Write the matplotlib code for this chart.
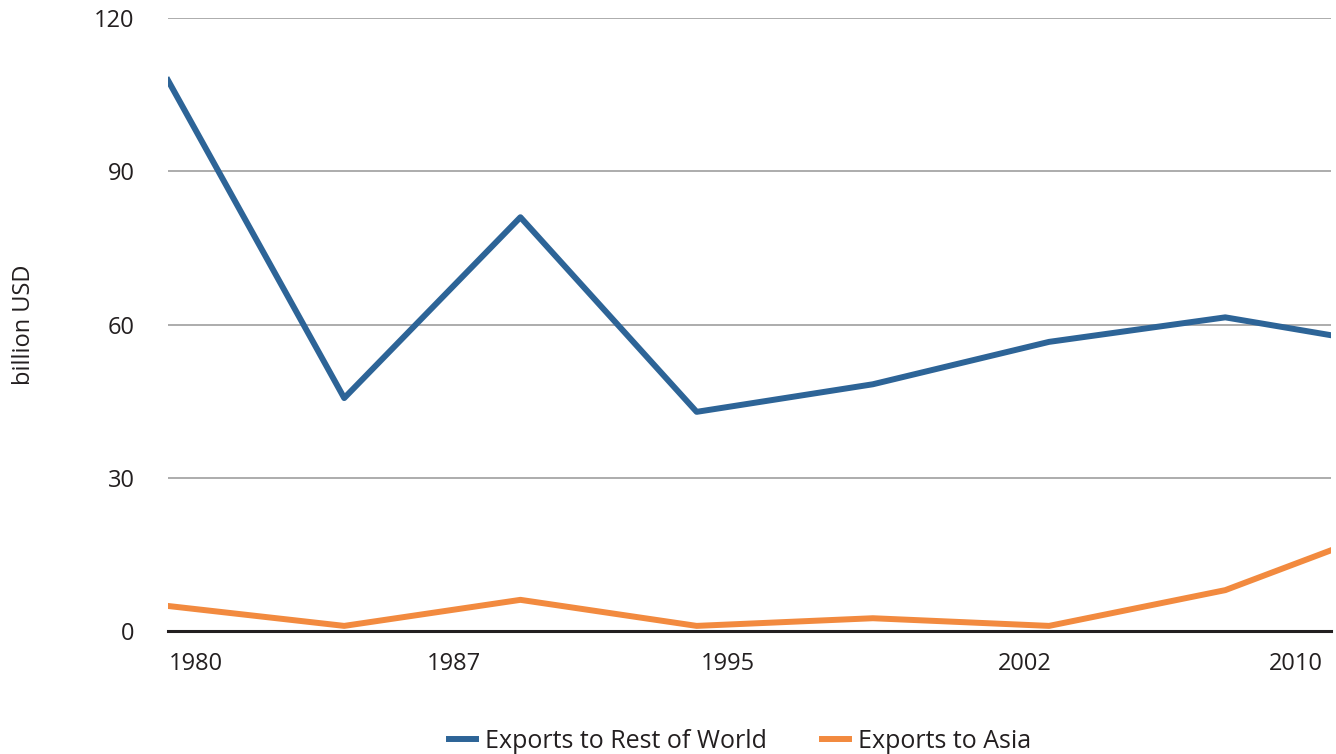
import matplotlib
matplotlib.use('Agg')
import matplotlib.pyplot as plt

plt.rcParams['font.family'] = ['Open Sans', 'DejaVu Sans']

years = [1980, 1985, 1990, 1995, 2000, 2005, 2010, 2013]
rest_of_world = [107.8, 45.6, 81.0, 42.9, 48.3, 56.6, 61.4, 57.9]
asia = [4.9, 1.0, 6.1, 1.0, 2.5, 1.0, 8.0, 15.8]

# tick labels sit where the original put them, not on the data years
xtick_pos = [1980.8, 1988.1, 1995.9, 2004.3, 2012.0]
xtick_labels = ['1980', '1987', '1995', '2002', '2010']
yticks = [0, 30, 60, 90, 120]

blue = '#2D6497'
orange = '#F28A3F'
text_col = '#231F20'

fig = plt.figure(figsize=(13.36, 7.54), dpi=100)
ax = fig.add_axes([168/1336, 1 - 631/754, (1331-168)/1336, (631-18)/754])

ax.plot(years, rest_of_world, color=blue, lw=4.3, label='Exports to Rest of World', zorder=3)
ax.plot(years, asia, color=orange, lw=4.3, label='Exports to Asia', zorder=3)

ax.set_xlim(1980, 2013)
ax.set_ylim(0, 120)
ax.set_yticks(yticks)
ax.set_xticks(xtick_pos)
ax.set_xticklabels(xtick_labels)
ax.yaxis.grid(True, color='#a6a6a6', lw=1.3)
ax.set_axisbelow(True)
for s in ['left', 'right', 'top']:
    ax.spines[s].set_visible(False)
ax.spines['bottom'].set_color(text_col)
ax.spines['bottom'].set_linewidth(2.2)
ax.spines['bottom'].set_zorder(4)
ax.tick_params(axis='both', length=0, labelsize=17, colors=text_col)
ax.tick_params(axis='y', pad=24)
ax.tick_params(axis='x', pad=15)
ax.set_ylabel('billion USD', fontsize=17, color=text_col, labelpad=42)

fig.legend(loc='lower center', bbox_to_anchor=(740/1336, -0.03), ncol=2, frameon=False,
           fontsize=18, handlelength=1.1, handletextpad=0.35, columnspacing=2.2,
           labelcolor=text_col)

fig.savefig('out.png', dpi=100)
